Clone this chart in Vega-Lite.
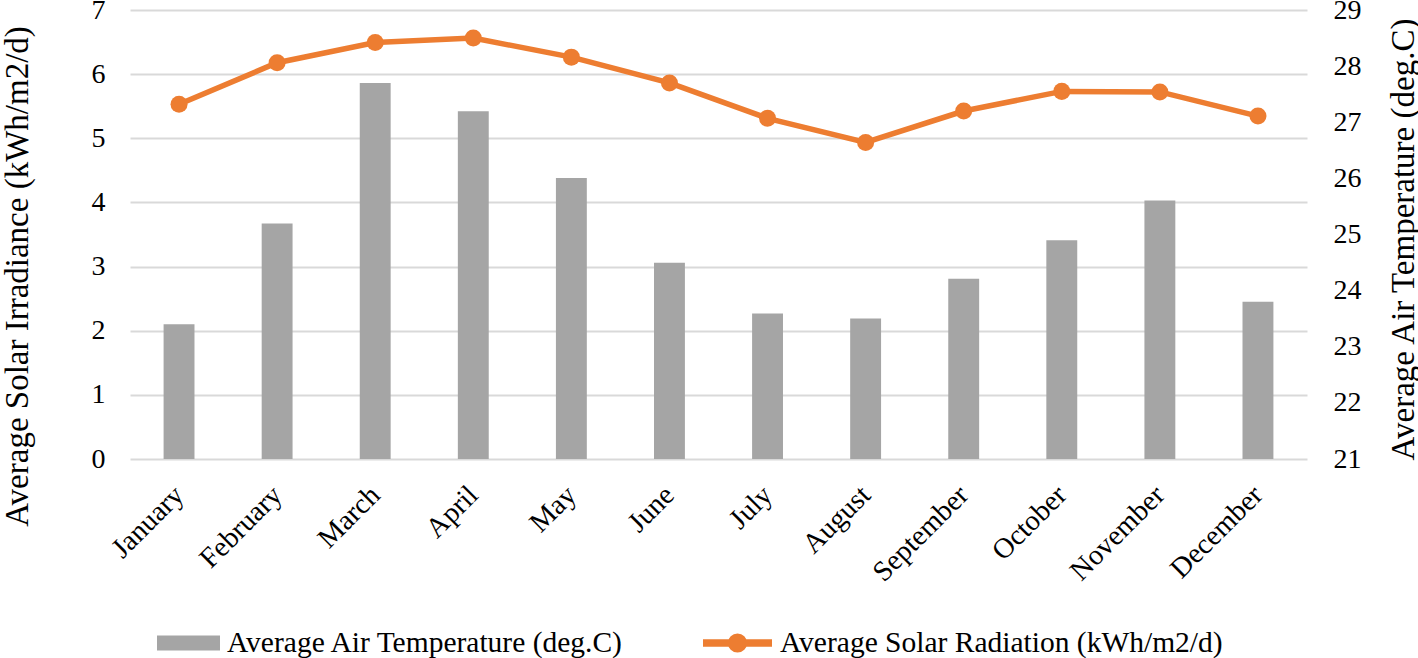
{
  "$schema": "https://vega.github.io/schema/vega-lite/v6.json",
  "width": 1177,
  "height": 449,
  "autosize": "none",
  "padding": {"left": 130, "top": 10, "right": 111, "bottom": 199},
  "background": "white",
  "config": {
    "font": "Liberation Serif",
    "view": {"stroke": null},
    "axis": {"labelColor": "black", "titleColor": "black", "labelFont": "Liberation Serif", "titleFont": "Liberation Serif", "titleFontWeight": "normal"},
    "legend": {"labelFont": "Liberation Serif", "labelColor": "black", "labelFontSize": 29.5, "labelLimit": 1000, "padding": 0}
  },
  "data": {
    "values": [
      {"month": "January", "irr": 2.10, "temp": 27.32},
      {"month": "February", "irr": 3.67, "temp": 28.06},
      {"month": "March", "irr": 5.86, "temp": 28.42},
      {"month": "April", "irr": 5.42, "temp": 28.50},
      {"month": "May", "irr": 4.38, "temp": 28.16},
      {"month": "June", "irr": 3.06, "temp": 27.70},
      {"month": "July", "irr": 2.27, "temp": 27.07},
      {"month": "August", "irr": 2.19, "temp": 26.64},
      {"month": "September", "irr": 2.81, "temp": 27.20},
      {"month": "October", "irr": 3.41, "temp": 27.55},
      {"month": "November", "irr": 4.03, "temp": 27.54},
      {"month": "December", "irr": 2.45, "temp": 27.11}
    ]
  },
  "encoding": {
    "x": {
      "field": "month", "type": "nominal", "sort": null,
      "scale": {"paddingInner": 0.685, "paddingOuter": 0.3425},
      "axis": {"title": null, "domain": false, "ticks": false, "labelAngle": -45, "labelAlign": "right", "labelBaseline": "middle", "labelFontSize": 28.5, "labelPadding": 31, "labelLimit": 1000}
    }
  },
  "layer": [
    {
      "mark": {"type": "bar", "color": "#A5A5A5"},
      "encoding": {
        "y": {
          "field": "irr", "type": "quantitative",
          "scale": {"domain": [0, 7], "nice": false},
          "axis": {"title": "Average Solar Irradiance (kWh/m2/d)", "values": [0,1,2,3,4,5,6,7], "domain": false, "ticks": false, "grid": true, "gridColor": "#D9D9D9", "gridWidth": 2, "labelFontSize": 28, "labelPadding": 25, "titleFontSize": 33, "titlePadding": 57, "titleY": 266}
        },
        "fill": {
          "datum": "Average Air Temperature (deg.C)",
          "scale": {"range": ["#A5A5A5"]},
          "legend": {"title": null, "orient": "none", "legendX": 27, "legendY": 601.5, "symbolType": "M-1,-0.238L1,-0.238L1,0.238L-1,0.238Z", "symbolSize": 3969, "symbolStrokeWidth": 0, "labelOffset": 7}
        }
      }
    },
    {
      "encoding": {
        "y": {
          "field": "temp", "type": "quantitative",
          "scale": {"domain": [21, 29], "nice": false},
          "axis": {"orient": "right", "title": "Average Air Temperature (deg.C)", "values": [21,22,23,24,25,26,27,28,29], "domain": false, "ticks": false, "grid": false, "labelFontSize": 28, "labelPadding": 26, "titleFontSize": 33, "titleAngle": -90, "titleBaseline": "top", "titlePadding": 26, "titleY": 229}
        }
      },
      "layer": [
        {
          "mark": {"type": "line", "color": "#ED7D31", "strokeWidth": 5.5},
          "encoding": {
            "stroke": {
              "datum": "Average Solar Radiation (kWh/m2/d)",
              "scale": {"range": ["#ED7D31"]},
              "legend": {"title": null, "orient": "none", "legendX": 569, "legendY": 594.5, "symbolType": "M-1,0L1,0M0.17,0A0.17,0.17,0,1,1,-0.17,0A0.17,0.17,0,1,1,0.17,0Z", "symbolSize": 4761, "symbolStrokeWidth": 7.5, "labelOffset": 4, "symbolFillColor": "#ED7D31", "encode": {"symbols": {"update": {"fill": {"value": "#ED7D31"}}}}}
            }
          }
        },
        {
          "mark": {"type": "point", "filled": true, "color": "#ED7D31", "size": 290, "opacity": 1}
        }
      ]
    }
  ],
  "resolve": {"scale": {"y": "independent", "fill": "independent", "stroke": "independent"}, "axis": {"y": "independent"}}
}
